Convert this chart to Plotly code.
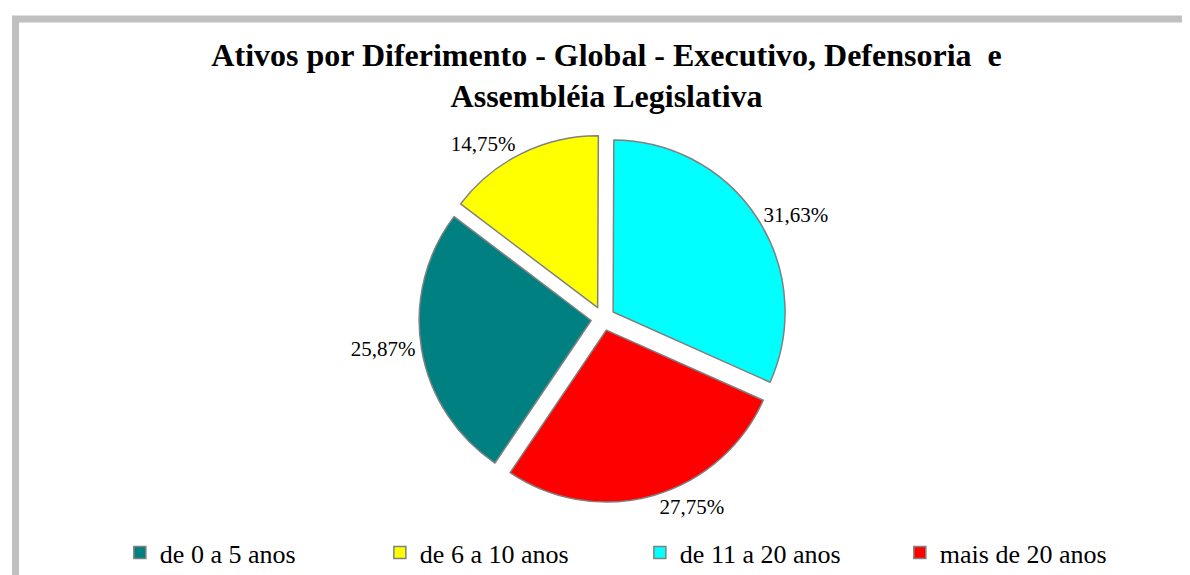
import plotly.graph_objects as go

categories = ["de 0 a 5 anos", "de 6 a 10 anos", "de 11 a 20 anos", "mais de 20 anos"]
values = [25.87, 14.75, 31.63, 27.75]
colors = ["#008080", "#FFFF00", "#00FFFF", "#FF0000"]
title_text = "<b>Ativos por Diferimento - Global - Executivo, Defensoria  e<br>Assembléia Legislativa</b>"

W, H = 1190, 575
SERIF = "Liberation Serif, Times New Roman, serif"

fig = go.Figure()
fig.add_trace(go.Pie(
    labels=categories,
    values=values,
    sort=False,
    direction="clockwise",
    rotation=214,
    pull=[0.07, 0.07, 0.07, 0.07],
    marker=dict(colors=colors, line=dict(color="#808080", width=1.5)),
    texttemplate="%{value:.2f}%",
    textposition="outside",
    textfont=dict(family=SERIF, size=21, color="black"),
    hoverinfo="label+value",
    domain=dict(x=[0.2, 0.8], y=[0.14, 0.78]),
))

fig.update_layout(
    width=W, height=H,
    margin=dict(l=0, r=0, t=0, b=0, autoexpand=False),
    paper_bgcolor="white",
    plot_bgcolor="white",
    separators=",.",
    font=dict(family=SERIF, color="black"),
    title=dict(text=title_text, x=0.503, xanchor="center", y=0.9, yanchor="top",
               font=dict(family=SERIF, size=32, color="black")),
    legend=dict(orientation="h", x=0.094, xanchor="left", y=0.012, yanchor="bottom",
                font=dict(family=SERIF, size=26, color="black"),
                entrywidth=215, traceorder="normal",
                bgcolor="rgba(0,0,0,0)"),
    shapes=[dict(type="rect", xref="paper", yref="paper",
                 x0=7.5 / W, x1=1.05, y0=-0.05, y1=1 - 11 / H,
                 line=dict(color="#C0C0C0", width=7), fillcolor="rgba(0,0,0,0)",
                 layer="below")],
)

fig.write_html("out.html")
